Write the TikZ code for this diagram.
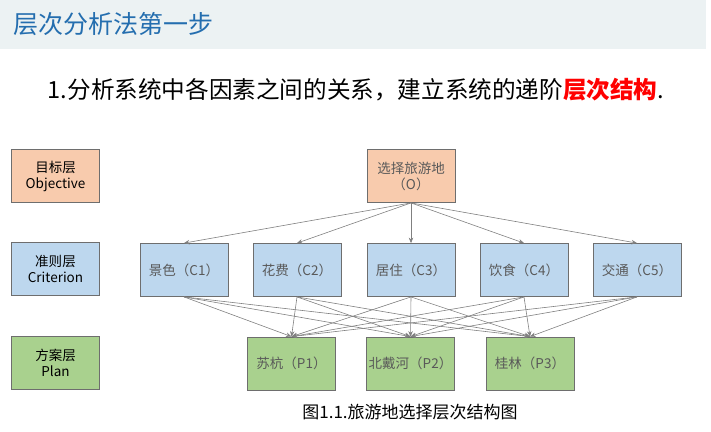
\documentclass[tikz,border=0pt]{standalone}
\usepackage{fontspec}
\setmainfont{Noto Sans CJK SC}
\usepackage{xcolor}
\usepackage{tikz}
\usetikzlibrary{arrows.meta,positioning}
\definecolor{ObjFill}{RGB}{248,203,173}
\definecolor{CriFill}{RGB}{189,215,238}
\definecolor{PlanFill}{RGB}{169,209,142}
\definecolor{boxline}{RGB}{110,110,110}
\definecolor{soft}{RGB}{128,128,128}
\definecolor{boxtext}{RGB}{89,89,89}
\definecolor{headband}{RGB}{236,242,243}
\definecolor{headblue}{RGB}{36,110,175}
\definecolor{keyred}{RGB}{255,0,0}

\begin{document}
\begin{tikzpicture}[x=1pt,y=-1pt,
   levelbox/.style={draw=boxline,line width=0.8pt,minimum width=88pt,minimum height=53pt,
     inner sep=0pt,align=center,font=\fontsize{13.5}{16}\selectfont},
   itembox/.style={levelbox,text=boxtext},
   link/.style={-{Stealth[length=5.5pt,width=4.5pt]},soft,line width=0.6pt}]
  \useasboundingbox (0,0) rectangle (711,431);
  \fill[headband] (0,0) rectangle (706,49);
  \node[anchor=west,headblue,font=\fontsize{25}{28}\selectfont] (title) at (10,24) {层次分析法第一步};
  \node[font=\fontsize{23.6}{26}\selectfont] (lead) at (356,90)
     {1.分析系统中各因素之间的关系，建立系统的递阶\textcolor{keyred}{\bfseries 层次结构}.};
  % level labels on the left
  \node[levelbox,fill=ObjFill]  (lobj)  at (55.5,176) {目标层\\Objective};
  \node[levelbox,fill=CriFill]  (lcri)  at (55.5,269) {准则层\\Criterion};
  \node[levelbox,fill=PlanFill] (lplan) at (55.5,363) {方案层\\Plan};
  % hierarchy
  \node[itembox,fill=ObjFill] (obj) at (411,176) {选择旅游地\\（O）};
  \node[itembox,fill=CriFill] (c1) at (184,270) {景色（C1）};
  \node[itembox,fill=CriFill] (c2) at (297,270) {花费（C2）};
  \node[itembox,fill=CriFill] (c3) at (411,270) {居住（C3）};
  \node[itembox,fill=CriFill] (c4) at (524,270) {饮食（C4）};
  \node[itembox,fill=CriFill] (c5) at (637,270) {交通（C5）};
  \node[itembox,fill=PlanFill] (p1) at (291.5,363.5) {苏杭（P1）};
  \node[itembox,fill=PlanFill] (p2) at (410.5,363.5) {北戴河（P2）};
  \node[itembox,fill=PlanFill] (p3) at (530,363.5) {桂林（P3）};
  \foreach \c in {c1,c2,c3,c4,c5}{
    \draw[link] (obj.south) -- (\c.north);
    \foreach \p in {p1,p2,p3}
      \draw[link] (\c.south) -- (\p.north);
  }
  \node[font=\fontsize{17}{19}\selectfont] (caption) at (410,412) {图1.1.旅游地选择层次结构图};
\end{tikzpicture}
\end{document}
